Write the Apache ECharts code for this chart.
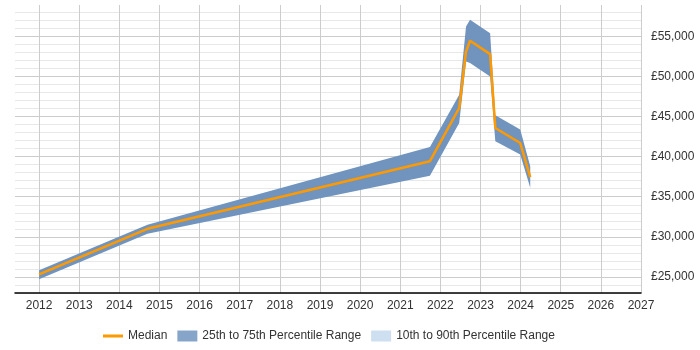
<!DOCTYPE html>
<html>
<head>
<meta charset="utf-8">
<script src="https://cdn.jsdelivr.net/npm/echarts@6/dist/echarts.min.js"></script>
<style>
  html, body { margin: 0; padding: 0; background: #fff; }
  #chart { width: 700px; height: 350px; }
</style>
</head>
<body>
<div id="chart"></div>
<script>
// sample points (decimal year)
const years = [2012.0, 2014.7, 2021.74, 2022.47, 2022.64, 2022.74, 2023.24, 2023.37, 2023.99, 2024.24]
const median = [25330, 31000, 39430, 46060, 53110, 54440, 52780, 43570, 41700, 37440]
const p25 = [24710, 30400, 37600, 44190, 51870, 51660, 50000, 41920, 40260, 36110]
const p75 = [25830, 31500, 41200, 47720, 56220, 57050, 55390, 45150, 43370, 38800]

const bandColor = '#7094be'
const textColor = '#333'
const font = '"Liberation Sans", Arial, sans-serif'

const chart = echarts.init(document.getElementById('chart'))

const option = {
  animation: false,
  backgroundColor: '#fff',
  textStyle: { fontFamily: font },
  grid: {
    left: 15,
    right: 59,
    top: 5,
    bottom: 57,
    containLabel: false
  },
  legend: {
    bottom: 3,
    left: 98,
    itemWidth: 20,
    itemHeight: 11,
    itemGap: 10,
    textStyle: { color: textColor, fontSize: 12, fontFamily: font },
    data: [
      { name: 'Median', icon: 'path://M0,0 L20,0 L20,3 L0,3 Z', itemStyle: { color: '#ff9900' } },
      { name: '25th to 75th Percentile Range', icon: 'rect', itemStyle: { color: '#87a5c9' } },
      { name: '10th to 90th Percentile Range', icon: 'rect', itemStyle: { color: '#cddff0' } }
    ]
  },
  xAxis: {
    type: 'value',
    min: 2011.4,
    max: 2027,
    minInterval: 1,
    maxInterval: 1,
    axisLine: { lineStyle: { color: '#000', width: 1.5 } },
    axisTick: { show: false },
    axisLabel: {
      color: textColor,
      fontSize: 12,
      margin: 7,
      showMinLabel: false,
      formatter: (v) => (Number.isInteger(v) ? String(v) : '')
    },
    splitLine: {
      show: true,
      showMinLine: false,
      lineStyle: { color: '#cccccc', width: 1 }
    }
  },
  yAxis: {
    type: 'value',
    position: 'right',
    min: 23000,
    max: 58900,
    minInterval: 1000,
    maxInterval: 1000,
    axisLine: { show: false },
    axisTick: { show: false },
    axisLabel: {
      color: textColor,
      fontSize: 12,
      margin: 10,
      showMaxLabel: false,
      formatter: (v) => (v % 5000 === 0 ? '£' + v.toLocaleString('en-GB') : '')
    },
    splitLine: {
      show: true,
      showMaxLine: false,
      lineStyle: {
        color: ['#e8e8e8', '#e8e8e8', '#cccccc', '#e8e8e8', '#e8e8e8'],
        width: 1
      }
    }
  },
  series: [
    {
      name: '10th to 90th Percentile Range',
      type: 'line',
      data: [],
      itemStyle: { color: '#cddff0' }
    },
    {
      name: '25th to 75th Percentile Range',
      type: 'custom',
      itemStyle: { color: bandColor },
      data: years.map((y, i) => [y, p25[i], p75[i]]),
      encode: { x: 0, y: [1, 2] },
      renderItem: (params, api) => {
        if (params.dataIndex !== 0) return null
        const upper = years.map((y, i) => api.coord([y, p75[i]]))
        const lower = years.map((y, i) => api.coord([y, p25[i]])).reverse()
        return {
          type: 'polygon',
          shape: { points: upper.concat(lower) },
          style: { fill: bandColor }
        }
      },
      z: 2
    },
    {
      name: 'Median',
      type: 'line',
      symbol: 'none',
      data: years.map((y, i) => [y, median[i]]),
      lineStyle: { color: '#ff9900', width: 2.5 },
      itemStyle: { color: '#ff9900' },
      z: 3
    }
  ]
}

chart.setOption(option)
</script>
</body>
</html>
